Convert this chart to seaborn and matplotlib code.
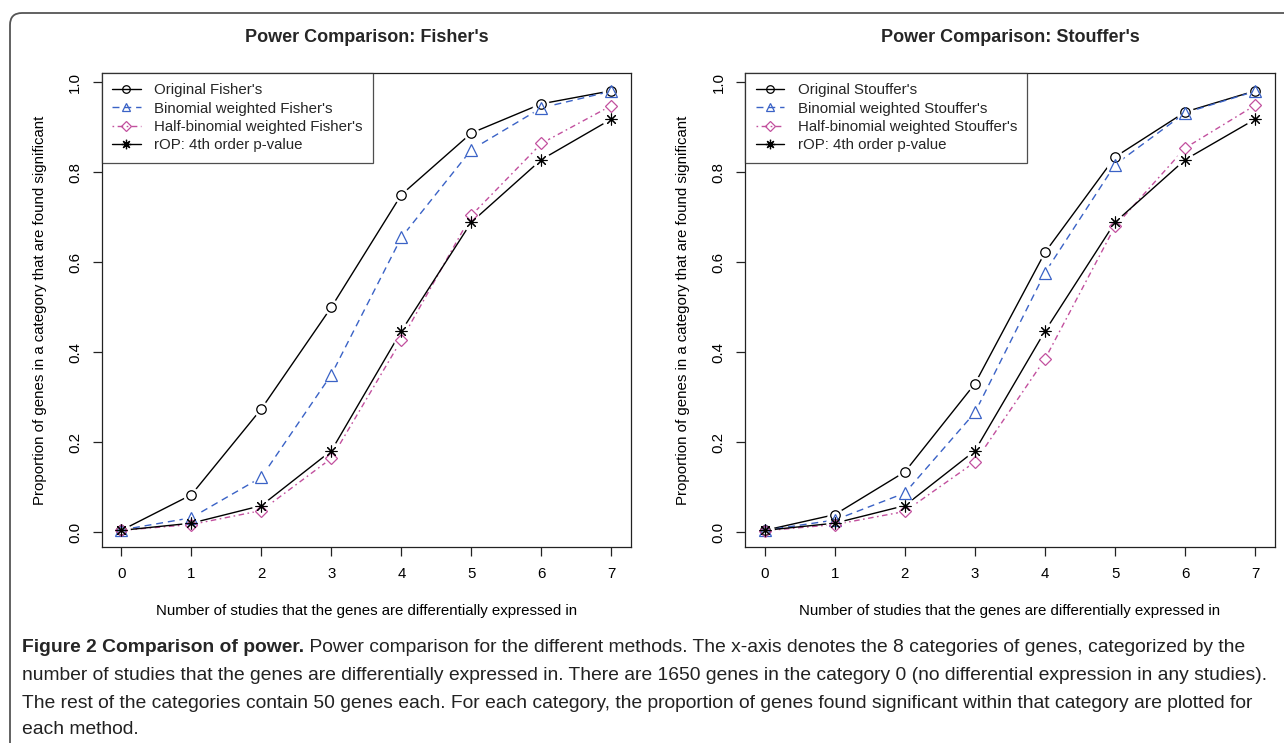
import numpy as np
import pandas as pd
import matplotlib.pyplot as plt
import seaborn as sns
from matplotlib.lines import Line2D
from matplotlib.patches import FancyBboxPatch
from matplotlib.transforms import IdentityTransform

# Number of studies in which the genes are differentially expressed
studies = [0, 1, 2, 3, 4, 5, 6, 7]

# Fisher panel
fisher_orig = [0.004, 0.083, 0.274, 0.500, 0.750, 0.887, 0.952, 0.981]
fisher_binom = [0.005, 0.032, 0.122, 0.350, 0.655, 0.850, 0.943, 0.980]
fisher_half = [0.004, 0.017, 0.048, 0.164, 0.427, 0.704, 0.864, 0.948]

# Stouffer panel
stouffer_orig = [0.004, 0.039, 0.134, 0.330, 0.622, 0.834, 0.934, 0.981]
stouffer_binom = [0.004, 0.027, 0.087, 0.266, 0.577, 0.817, 0.932, 0.980]
stouffer_half = [0.003, 0.017, 0.046, 0.156, 0.385, 0.680, 0.854, 0.949]

# rOP, same in both panels
rop = [0.004, 0.020, 0.059, 0.181, 0.447, 0.689, 0.828, 0.918]

panel_titles = ["Power Comparison: Fisher's", "Power Comparison: Stouffer's"]
fisher_labels = ["Original Fisher's", "Binomial weighted Fisher's",
                 "Half-binomial weighted Fisher's", "rOP: 4th order p-value"]
stouffer_labels = ["Original Stouffer's", "Binomial weighted Stouffer's",
                   "Half-binomial weighted Stouffer's", "rOP: 4th order p-value"]
y_ticks = [0.0, 0.2, 0.4, 0.6, 0.8, 1.0]

x_label = "Number of studies that the genes are differentially expressed in"
y_label = "Proportion of genes in a category that are found significant"

caption_bold = "Figure 2 Comparison of power."
caption_lines = [
    " Power comparison for the different methods. The x-axis denotes the 8 categories of genes, categorized by the",
    "number of studies that the genes are differentially expressed in. There are 1650 genes in the category 0 (no differential expression in any studies).",
    "The rest of the categories contain 50 genes each. For each category, the proportion of genes found significant within that category are plotted for",
    "each method.",
]

# styles: colour, dash pattern, marker
BLUE = "#3a62c6"
PINK = "#c2509e"
styles = [
    dict(color="black", dashes=None, marker="o", ms=6.8, mew=0.9),
    dict(color=BLUE, dashes=(5, 3.5), marker="^", ms=8.0, mew=0.9),
    dict(color=PINK, dashes=(1.2, 2.5, 4, 2.5), marker="D", ms=6.3, mew=0.9),
    dict(color="black", dashes=None, marker=(8, 2, 0), ms=8.5, mew=0.8),
]

FS = 10.8

sns.set_theme(style="white")
plt.rcParams["font.family"] = ["Liberation Sans", "DejaVu Sans"]

W, H = 1284, 743
fig = plt.figure(figsize=(W / 100, H / 100), dpi=100)

# outer rounded frame of the figure page
frame = FancyBboxPatch((10, -30), 1320, 760, boxstyle="round,pad=0,rounding_size=12",
                       transform=IdentityTransform(), fill=False,
                       edgecolor="#555555", linewidth=1.3)
fig.patches.append(frame)

frame_top, frame_bot = 72.5, 547.3
ax_h = (frame_bot - frame_top) / H
ax_b = 1 - frame_bot / H
axes = [fig.add_axes([101.7 / W, ax_b, 529.3 / W, ax_h]),
        fig.add_axes([745.0 / W, ax_b, 530.0 / W, ax_h])]

panels = [
    (fisher_orig, fisher_binom, fisher_half, rop, fisher_labels),
    (stouffer_orig, stouffer_binom, stouffer_half, rop, stouffer_labels),
]

for ax, title, (s1, s2, s3, s4, labels) in zip(axes, panel_titles, panels):
    series = [s1, s2, s3, s4]
    frames = [pd.DataFrame({"studies": studies, "prop": s}) for s in series]

    # lines
    for df, st in zip(frames, styles):
        kw = dict(color=st["color"], linewidth=1.0, zorder=2)
        if st["dashes"] is not None:
            kw["dashes"] = st["dashes"]
        sns.lineplot(data=df, x="studies", y="prop", ax=ax, **kw)

    # white halos to leave a gap around the points (R type="b")
    for df, st in zip(frames, styles):
        sns.lineplot(data=df, x="studies", y="prop", ax=ax, linestyle="",
                     marker="o", markersize=st["ms"] + 4, markerfacecolor="white",
                     markeredgecolor="white", zorder=3)

    # open point symbols
    for df, st in zip(frames, styles):
        sns.lineplot(data=df, x="studies", y="prop", ax=ax, linestyle="",
                     marker=st["marker"], markersize=st["ms"],
                     markerfacecolor="none", markeredgecolor=st["color"],
                     markeredgewidth=st["mew"], zorder=4)

    ax.set_xlim(-0.28, 7.28)
    ax.set_ylim(-0.0336, 1.0216)
    ax.set_xticks(studies)
    ax.set_yticks(y_ticks)
    ax.set_yticklabels([f"{v:.1f}" for v in y_ticks], rotation=90, va="center")
    ax.tick_params(axis="both", direction="out", length=6.5, width=0.9,
                   color="#222222", labelsize=FS, labelcolor="black",
                   bottom=True, left=True, pad=7.5)
    for sp in ax.spines.values():
        sp.set_color("#222222")
        sp.set_linewidth(0.9)

    ax.set_xlabel(x_label, fontsize=FS, color="black")
    ax.xaxis.set_label_coords(0.5, -64 / (frame_bot - frame_top))
    ax.xaxis.label.set_va("center")
    ax.set_ylabel(y_label, fontsize=FS, color="black")
    ax.yaxis.set_label_coords(-62 / 530, 0.5)
    ax.yaxis.label.set_va("center")

    ax.text(0.5, 1 + 34.5 / (frame_bot - frame_top), title, transform=ax.transAxes,
            ha="center", va="center", fontsize=13, fontweight="bold")

    handles = []
    for st, lab in zip(styles, labels):
        handles.append(Line2D([], [], color=st["color"], linewidth=1.0,
                              linestyle="-" if st["dashes"] is None else (0, st["dashes"]),
                              marker=st["marker"], markersize=st["ms"] * 0.8,
                              markerfacecolor="none", markeredgecolor=st["color"],
                              markeredgewidth=0.9, label=lab))
    leg = ax.legend(handles=handles, loc="upper left", bbox_to_anchor=(0, 1),
                    borderaxespad=0, frameon=True, fancybox=False, fontsize=FS,
                    handlelength=1.9, handletextpad=0.9, labelspacing=0.3,
                    borderpad=0.7)
    leg.get_frame().set_edgecolor("#222222")
    leg.get_frame().set_linewidth(0.9)

# caption
cap_font = ["Liberation Sans", "DejaVu Sans"]
cap_size = 13.9
cap_y = [648, 676, 703, 730]
x0 = 22 / W
renderer = fig.canvas.get_renderer()
bold = fig.text(x0, 1 - cap_y[0] / H, caption_bold, fontsize=cap_size,
                fontweight="bold", family=cap_font, va="center", ha="left")
bb = bold.get_window_extent(renderer)
fig.text(bb.x1 / W, 1 - cap_y[0] / H, caption_lines[0], fontsize=cap_size,
         family=cap_font, va="center", ha="left", color="#222222")
for line, y in zip(caption_lines[1:], cap_y[1:]):
    fig.text(x0, 1 - y / H, line, fontsize=cap_size, family=cap_font,
             va="center", ha="left", color="#222222")

fig.savefig("out.png", dpi=100)
